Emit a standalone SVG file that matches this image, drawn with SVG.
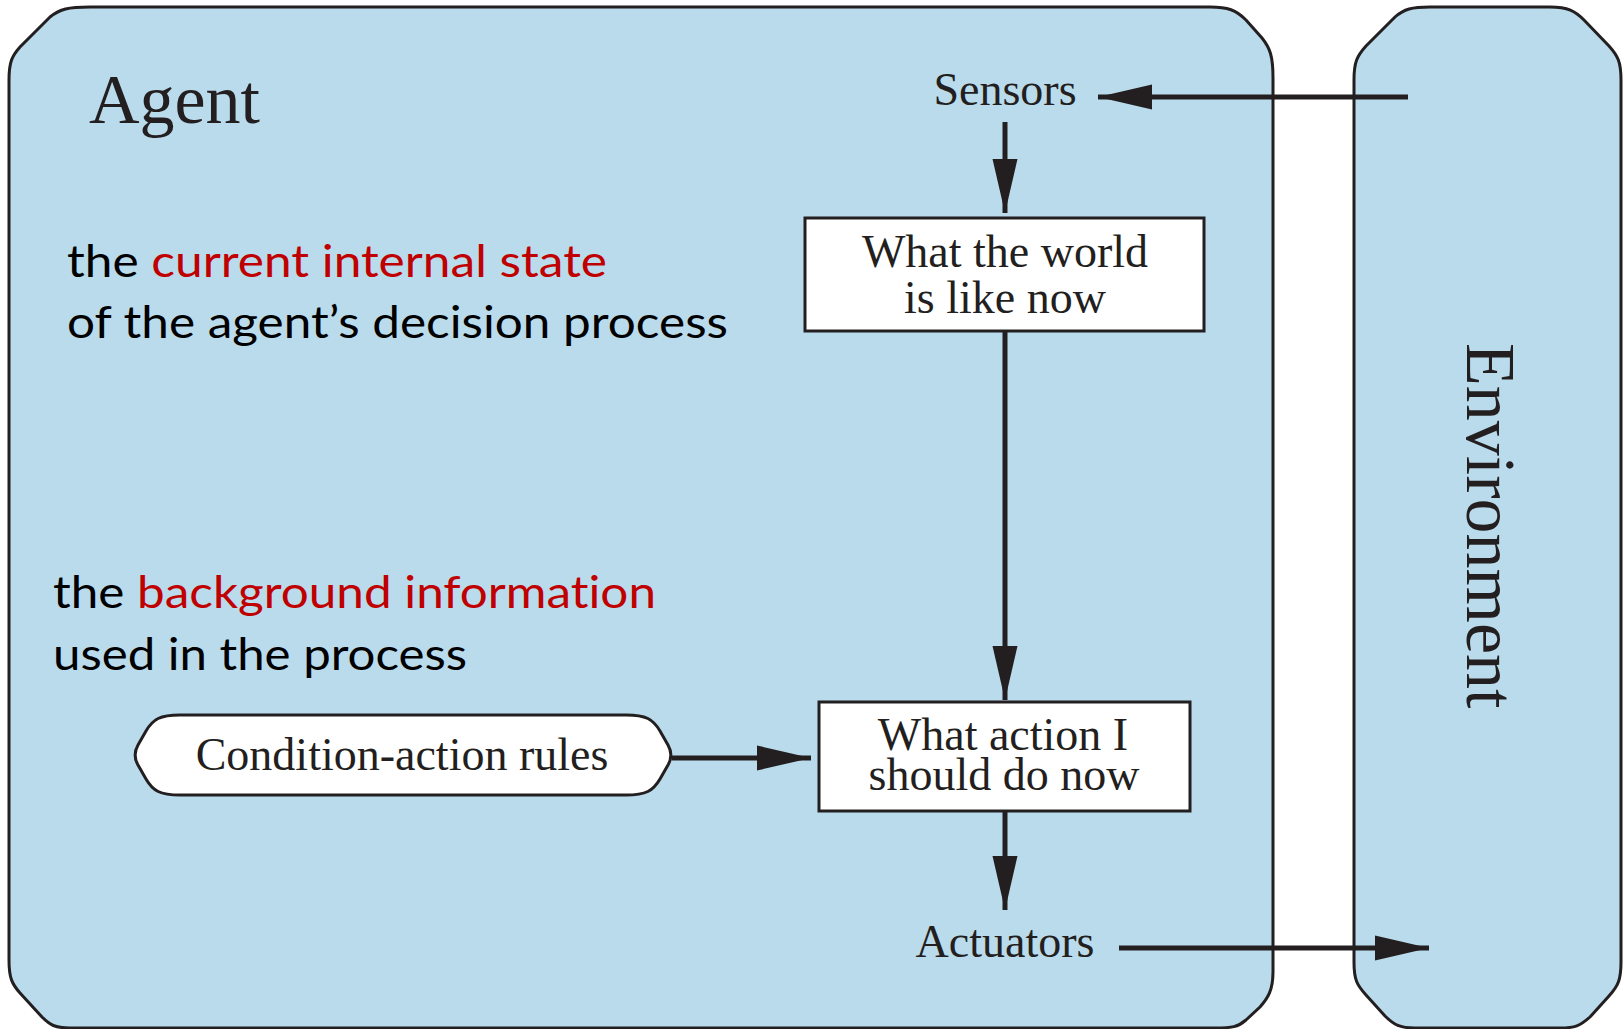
<svg xmlns="http://www.w3.org/2000/svg" width="1623" height="1029" viewBox="0 0 1623 1029">
  <style>
    .panel { fill: #badbeb; stroke: #231f20; stroke-width: 3; }
    .box { fill: #ffffff; stroke: #231f20; stroke-width: 3; }
    .serif { font-family: "Liberation Serif", "Times New Roman", serif; fill: #231f20; }
    .lbl { font-size: 46px; text-anchor: middle; }
    .note { font-family: Lato, "Open Sans", sans-serif; font-size: 45px; fill: #000000; font-variant-ligatures: none; }
    .red { fill: #c00000; }
    .edge { stroke: #231f20; stroke-width: 5; fill: none; }
  </style>
  <defs>
    <marker id="head" markerUnits="userSpaceOnUse" markerWidth="56" markerHeight="28" refX="54" refY="13" orient="auto">
      <polygon points="0,0.5 54,13 0,25.5" fill="#231f20"/>
    </marker>
  </defs>

  <!-- agent panel -->
  <g id="agent">
    <path class="panel" d="M 90,7 L 1210,7 C 1228,7 1236,10 1246,20 L 1262,38 C 1270,48 1273,56 1273,78 L 1273,972 C 1273,990 1268,998 1260,1007 L 1246,1020 C 1238,1027 1232,1028 1215,1028 L 70,1028 C 55,1028 50,1025 42,1017 L 20,993 C 12,984 9,978 9,960 L 9,80 C 9,62 12,56 20,47 L 50,17 C 60,9 68,7 90,7 Z"/>
    <text class="serif" x="89" y="123" font-size="70">Agent</text>
  </g>

  <!-- environment panel -->
  <g id="environment">
    <path class="panel" d="M 1430,7 L 1550,7 C 1568,7 1575,11 1584,20 L 1609,46 C 1618,56 1621,62 1621,80 L 1621,962 C 1621,980 1618,986 1609,996 L 1590,1017 C 1580,1026 1575,1028 1560,1028 L 1415,1028 C 1400,1028 1394,1025 1385,1016 L 1366,995 C 1357,985 1354,980 1354,962 L 1354,80 C 1354,62 1357,56 1366,46 L 1395,17 C 1404,9 1412,7 1430,7 Z"/>
    <text class="serif" transform="translate(1467,343) rotate(90)" font-size="70">Environment</text>
  </g>

  <!-- explanatory notes -->
  <g id="note-state">
    <text class="note" x="67" y="277" textLength="540" lengthAdjust="spacingAndGlyphs">the <tspan class="red">current internal state</tspan></text>
    <text class="note" x="67" y="338" textLength="661" lengthAdjust="spacingAndGlyphs">of the agent’s decision process</text>
  </g>
  <g id="note-rules">
    <text class="note" x="53" y="608" textLength="603" lengthAdjust="spacingAndGlyphs">the <tspan class="red">background information</tspan></text>
    <text class="note" x="53" y="670" textLength="414" lengthAdjust="spacingAndGlyphs">used in the process</text>
  </g>

  <!-- nodes -->
  <g id="sensors">
    <text class="serif lbl" x="1005" y="105">Sensors</text>
  </g>
  <g id="world-state">
    <rect class="box" x="805" y="218" width="399" height="113"/>
    <text class="serif lbl"><tspan x="1005" y="267">What the world</tspan><tspan x="1005" y="313">is like now</tspan></text>
  </g>
  <g id="rules">
    <path class="box" d="M 180,715 L 626,715 C 646,715 653,719 660,731 L 668,745 C 672,752 672,758 668,765 L 660,779 C 653,791 646,795 626,795 L 180,795 C 160,795 153,791 146,779 L 138,765 C 134,758 134,752 138,745 L 146,731 C 153,719 160,715 180,715 Z"/>
    <text class="serif lbl" x="402" y="770">Condition-action rules</text>
  </g>
  <g id="action">
    <rect class="box" x="819" y="702" width="371" height="109"/>
    <text class="serif lbl"><tspan x="1003" y="750">What action I</tspan><tspan x="1004" y="790">should do now</tspan></text>
  </g>
  <g id="actuators">
    <text class="serif lbl" x="1005" y="957">Actuators</text>
  </g>

  <!-- connectors -->
  <g id="connectors">
    <line class="edge" x1="1408" y1="97" x2="1098" y2="97" marker-end="url(#head)"/>
    <line class="edge" x1="1005" y1="122" x2="1005" y2="213" marker-end="url(#head)"/>
    <line class="edge" x1="1005" y1="331" x2="1005" y2="700" marker-end="url(#head)"/>
    <line class="edge" x1="672" y1="758" x2="811" y2="758" marker-end="url(#head)"/>
    <line class="edge" x1="1005" y1="811" x2="1005" y2="910" marker-end="url(#head)"/>
    <line class="edge" x1="1119" y1="948" x2="1429" y2="948" marker-end="url(#head)"/>
  </g>
</svg>
